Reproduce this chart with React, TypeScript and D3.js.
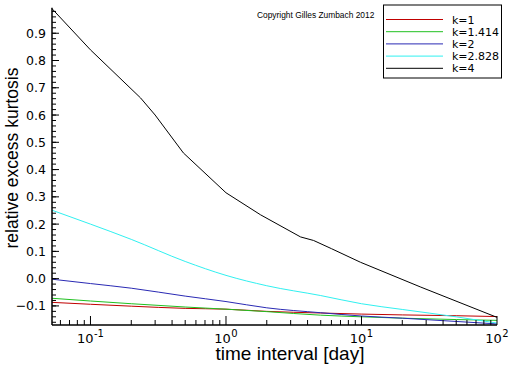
import React, { useEffect, useRef } from "react";
import * as d3 from "d3";

// time interval in days, shared grid for the smooth curves
const days = [0.052, 0.1, 0.2, 0.5, 1, 2, 5, 10, 20, 50, 100];
const kurtK1 = [-0.087, -0.094, -0.101, -0.109, -0.112, -0.12, -0.126, -0.13, -0.133, -0.136, -0.139];
const kurtK1414 = [-0.072, -0.082, -0.092, -0.104, -0.112, -0.121, -0.134, -0.14, -0.145, -0.15, -0.153];
const kurtK2 = [-0.002, -0.018, -0.035, -0.064, -0.084, -0.107, -0.125, -0.137, -0.145, -0.157, -0.166];
const kurtK2828 = [0.251, 0.2, 0.144, 0.063, 0.012, -0.026, -0.062, -0.092, -0.113, -0.14, -0.163];
// k=4 is bumpier, read on its own grid
const daysK4 = [0.052, 0.1, 0.234, 0.3, 0.485, 1, 1.8, 3.55, 4.43, 6, 9.84, 27.4, 100];
const kurtK4 = [0.99, 0.839, 0.663, 0.6, 0.461, 0.315, 0.234, 0.153, 0.14, 0.11, 0.06, -0.031, -0.142];

const seriesNames = ["k=1", "k=1.414", "k=2", "k=2.828", "k=4"];
const seriesColors = ["#c00000", "#20c020", "#2a2ab4", "#30f0f0", "#000000"];

const yMajor = [-0.1, 0, 0.1, 0.2, 0.3, 0.4, 0.5, 0.6, 0.7, 0.8, 0.9];
const xMajorExp = [-1, 0, 1, 2];

const App = () => {
  const ref = useRef(null);

  useEffect(() => {
    d3.select(ref.current).selectAll("*").remove();
    const width = 512;
    const height = 366;
    const font = "'Liberation Sans', Arial, Helvetica, sans-serif";
    const tickFont = "'DejaVu Sans', Verdana, sans-serif";

    const svg = d3
      .select(ref.current)
      .append("svg")
      .attr("width", width)
      .attr("height", height)
      .style("position", "absolute")
      .style("left", 0)
      .style("top", 0)
      .style("background", "#fff")
      .attr("font-family", font);

    const x = d3.scaleLog().domain([0.052, 100]).range([52, 497]);
    const y = d3.scaleLinear().domain([-0.17, 0.99]).range([325, 8.7]);

    const data = [
      days.map((d, i) => [d, kurtK1[i]]),
      days.map((d, i) => [d, kurtK1414[i]]),
      days.map((d, i) => [d, kurtK2[i]]),
      days.map((d, i) => [d, kurtK2828[i]]),
      daysK4.map((d, i) => [d, kurtK4[i]]),
    ];

    const smooth = d3
      .line()
      .x((d) => x(d[0]))
      .y((d) => y(d[1]))
      .curve(d3.curveMonotoneX);
    const straight = d3
      .line()
      .x((d) => x(d[0]))
      .y((d) => y(d[1]));

    // curves
    svg
      .append("g")
      .selectAll("path")
      .data(data)
      .join("path")
      .attr("d", (d, i) => (i === 4 ? straight(d) : smooth(d)))
      .attr("fill", "none")
      .attr("stroke", (d, i) => seriesColors[i])
      .attr("stroke-width", 1);

    const axis = svg.append("g").attr("stroke", "#000");
    const [x0, x1] = x.range();
    const [yb, yt] = y.range();

    // axis lines
    axis.append("line").attr("x1", x0).attr("x2", x0).attr("y1", yb).attr("y2", yt - 1).attr("stroke-width", 1.5);
    axis.append("line").attr("x1", x0).attr("x2", x1).attr("y1", yb).attr("y2", yb).attr("stroke-width", 1.5);

    // y ticks: minor every 0.02, major every 0.1
    const yMinor = d3.range(-16, 99, 2).map((v) => v / 100);
    axis
      .selectAll(".ymin")
      .data(yMinor)
      .join("line")
      .attr("x1", x0)
      .attr("x2", x0 + 4)
      .attr("y1", (d) => y(d))
      .attr("y2", (d) => y(d));
    axis
      .selectAll(".ymaj")
      .data(yMajor)
      .join("line")
      .attr("x1", x0)
      .attr("x2", x0 + 7)
      .attr("y1", (d) => y(d))
      .attr("y2", (d) => y(d));

    svg
      .append("g")
      .attr("font-family", tickFont)
      .selectAll("text")
      .data(yMajor)
      .join("text")
      .attr("x", 46)
      .attr("y", (d) => y(d) + 4.5)
      .attr("text-anchor", "end")
      .attr("font-size", 12.5)
      .text((d) => d3.format(".1f")(d));

    // x ticks
    const xMinor = [];
    for (let e = -2; e < 2; e++) {
      for (let m = 2; m <= 9; m++) {
        const v = m * Math.pow(10, e);
        if (v >= 0.052 && v <= 100) xMinor.push(v);
      }
    }
    axis
      .selectAll(".xmin")
      .data(xMinor)
      .join("line")
      .attr("x1", (d) => x(d))
      .attr("x2", (d) => x(d))
      .attr("y1", yb)
      .attr("y2", yb - 5);
    axis
      .selectAll(".xmaj")
      .data(xMajorExp)
      .join("line")
      .attr("x1", (d) => x(Math.pow(10, d)))
      .attr("x2", (d) => x(Math.pow(10, d)))
      .attr("y1", yb)
      .attr("y2", yb - 9);

    const xl = svg
      .append("g")
      .attr("font-family", tickFont)
      .selectAll("text")
      .data(xMajorExp)
      .join("text")
      .attr("x", (d) => x(Math.pow(10, d)))
      .attr("y", 343)
      .attr("text-anchor", "middle")
      .attr("font-size", 13);
    xl.append("tspan").text("10");
    xl.append("tspan")
      .attr("dx", 0.5)
      .attr("dy", -6)
      .attr("font-size", 10)
      .text((d) => (d < 0 ? "-" : "") + Math.abs(d));

    // axis titles
    svg
      .append("text")
      .attr("x", 290)
      .attr("y", 360)
      .attr("text-anchor", "middle")
      .attr("font-size", 19)
      .text("time interval [day]");
    svg
      .append("text")
      .attr("transform", "translate(18,158) rotate(-90)")
      .attr("text-anchor", "middle")
      .attr("font-size", 17.5)
      .text("relative excess kurtosis");

    // copyright
    svg
      .append("text")
      .attr("x", 257)
      .attr("y", 18)
      .attr("font-size", 8.4)
      .text("Copyright Gilles Zumbach 2012");

    // legend
    const lg = svg.append("g");
    lg.append("rect")
      .attr("x", 383.5)
      .attr("y", 5)
      .attr("width", 118)
      .attr("height", 73)
      .attr("fill", "#fff")
      .attr("stroke", "#000")
      .attr("stroke-width", 1);
    seriesNames.forEach((name, i) => {
      const ly = 19.5 + i * 12.2;
      lg.append("line")
        .attr("x1", 386)
        .attr("x2", 443)
        .attr("y1", ly)
        .attr("y2", ly)
        .attr("stroke", seriesColors[i])
        .attr("stroke-width", 1);
      lg.append("text")
        .attr("x", 452)
        .attr("y", ly + 4)
        .attr("font-family", tickFont)
        .attr("font-size", 11)
        .text(name);
    });
  }, []);

  return <div ref={ref} />;
};

export default App;
